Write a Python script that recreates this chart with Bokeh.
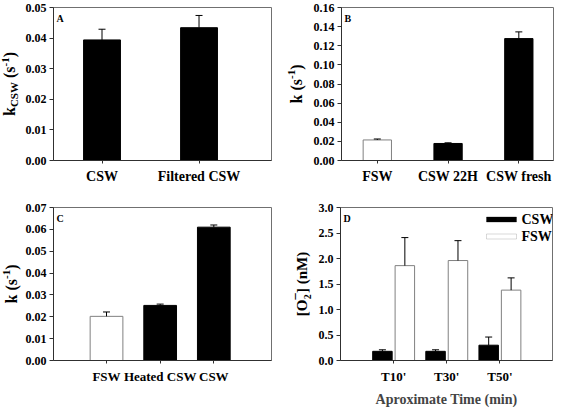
import math
from bokeh.plotting import figure
from bokeh.models import (Range1d, FixedTicker, Label, Whisker, TeeHead, ColumnDataSource,
                          NumeralTickFormatter, BoxAnnotation)
from bokeh.transform import dodge
from bokeh.layouts import column, row
from bokeh.embed import file_html
from bokeh.resources import INLINE

FONT = "Liberation Serif"

# ---------------- data ----------------
a_cats = ["CSW", "Filtered CSW"]
a_vals = [0.0394, 0.0434]
a_errs = [0.0035, 0.0040]
a_fill = ["black", "black"]

b_cats = ["FSW", "CSW 22H", "CSW fresh"]
b_vals = [0.0215, 0.0178, 0.1275]
b_errs = [0.0010, 0.0007, 0.0070]
b_fill = ["white", "black", "black"]

c_cats = ["FSW", "Heated CSW", "CSW"]
c_vals = [0.0202, 0.0252, 0.0610]
c_errs = [0.0020, 0.0006, 0.0010]
c_fill = ["white", "black", "black"]

d_times = ["T10'", "T30'", "T50'"]
d_series = ["CSW", "FSW"]
d_csw = [0.18, 0.18, 0.30]
d_csw_err = [0.03, 0.03, 0.16]
d_fsw = [1.86, 1.96, 1.38]
d_fsw_err = [0.55, 0.39, 0.24]

# Times-like bold advance widths (em)
W = {"k": .556, "C": .722, "S": .556, "W": 1.0, " ": .25, "(": .333, "s": .389,
     "-": .333, "1": .5, ")": .333, "[": .333, "O": .778, "2": .5, "]": .333,
     "n": .556, "M": .944, "\u2212": .57}


def tw(s, size):
    return sum(W.get(ch, .5) for ch in s) * size


def base_fig(xr, yr, fw, fh, bl, br, bt, bb, axes=True):
    kw = {} if axes else dict(x_axis_type=None, y_axis_type=None)
    p = figure(x_range=Range1d(*xr), y_range=Range1d(*yr),
               frame_width=fw, frame_height=fh,
               min_border_left=bl, min_border_right=br,
               min_border_top=bt, min_border_bottom=bb,
               output_backend="svg", toolbar_location=None, tools="", **kw)
    p.background_fill_color = "white"
    p.border_fill_color = "white"
    return p


class Panel:
    def __init__(self, xr, yr, fw, fh, bl, br, bt, bb):
        self.xr, self.yr, self.fw, self.fh = xr, yr, fw, fh
        self.bt, self.bb = bt, bb
        p = base_fig(xr, yr, fw, fh, bl, br, bt, bb)
        p.xgrid.visible = False
        p.ygrid.visible = False
        p.outline_line_color = "#707070"
        p.outline_line_width = 1
        for ax in (p.xaxis[0], p.yaxis[0]):
            ax.axis_line_color = "#303030"
            ax.major_tick_line_color = "#303030"
            ax.minor_tick_line_color = None
            ax.major_tick_in = 0
            ax.major_label_text_font = FONT
            ax.major_label_text_font_style = "bold"
            ax.major_label_text_color = "black"
        p.yaxis[0].major_tick_out = 4
        p.yaxis[0].major_label_standoff = 3
        p.yaxis[0].major_label_text_font_size = "12px"
        p.xaxis[0].major_tick_out = 3
        p.xaxis[0].major_label_standoff = 5
        p.xaxis[0].major_label_text_font_size = "14px"
        self.p = p

    def X(self, px):
        return self.xr[0] + px * (self.xr[1] - self.xr[0]) / self.fw

    def Y(self, py):
        return self.yr[0] + py * (self.yr[1] - self.yr[0]) / self.fh

    def letter(self, t):
        self.p.add_layout(Label(x=self.X(3), y=self.Y(self.fh - 5), text=t,
                                text_align="left", text_baseline="top",
                                text_font=FONT, text_font_style="bold",
                                text_font_size="10px", text_color="black"))

    def bars(self, cats, vals, errs, fills, width):
        xs = list(range(len(cats)))
        lines = ["#808080" if f == "white" else "black" for f in fills]
        src = ColumnDataSource(dict(x=xs, top=vals, fill=fills, line=lines,
                                    upper=[v + e for v, e in zip(vals, errs)]))
        self.p.vbar(x="x", top="top", bottom=0, width=width, fill_color="fill",
                    line_color="line", line_width=1, source=src)
        self.p.add_layout(Whisker(base="x", upper="upper", lower="top", source=src,
                                  dimension="height", line_color="black", line_width=1,
                                  upper_head=TeeHead(size=7, line_color="black", line_width=1),
                                  lower_head=None, level="overlay"))
        self.p.xaxis[0].ticker = FixedTicker(ticks=xs)
        self.p.xaxis[0].major_label_overrides = {i: c for i, c in enumerate(cats)}


def label_fig(w, partner, base_px, pieces):
    """Narrow figure holding the rotated y-axis title (with sub/superscripts).
    Each piece is centred on its own spot; blank pieces only advance."""
    fh = partner.fh
    lp = base_fig((0, w), (0, fh), w, fh, 0, 0, partner.bt, partner.bb, axes=False)
    lp.outline_line_color = None
    advs = [tw(t, s) if a is None else a for t, s, sh, a in pieces]
    pos = fh / 2 - sum(advs) / 2
    for (t, s, sh, a), adv in zip(pieces, advs):
        if t.strip():
            centre_along = pos + (adv if adv > 0 else 5.5) / 2
            lp.add_layout(Label(x=base_px + sh - 0.32 * s, y=centre_along, text=t,
                                angle=math.pi / 2, text_align="center",
                                text_baseline="middle", text_font=FONT,
                                text_font_style="bold", text_font_size=f"{s}px",
                                text_color="black"))
        pos += adv
    return lp


k_label = [("k", 16, 0, None), (" ", 16, 0, None), ("(s", 16, 0, None),
           ("-1", 11, -6, None), (")", 16, 0, None)]

# ---------------- panel A ----------------
A = Panel((-0.5, 1.747), (0, 0.05), 218, 153, 31, 15, 7, 39)
A.bars(a_cats, a_vals, a_errs, a_fill, 0.38)
A.p.yaxis[0].ticker = FixedTicker(ticks=[0, 0.01, 0.02, 0.03, 0.04, 0.05])
A.p.yaxis[0].formatter = NumeralTickFormatter(format="0.00")
A.letter("A")
LA = label_fig(22, A, 14.5, [("k", 16, 0, None), ("CSW", 11, 3, None), (" ", 16, 0, None),
                             ("(s", 16, 0, None), ("-1", 11, -6, None), (")", 16, 0, None)])

# ---------------- panel B ----------------
B = Panel((-0.506, 2.49), (0, 0.16), 212, 153, 30, 1, 7, 39)
B.bars(b_cats, b_vals, b_errs, b_fill, 0.40)
B.p.yaxis[0].ticker = FixedTicker(ticks=[0, 0.02, 0.04, 0.06, 0.08, 0.10, 0.12, 0.14, 0.16])
B.p.yaxis[0].formatter = NumeralTickFormatter(format="0.00")
B.letter("B")
LB = label_fig(24, B, 15, k_label)

# ---------------- panel C ----------------
C = Panel((-0.988, 3.075), (0, 0.07), 218, 153, 31, 15, 8, 43)
C.bars(c_cats, c_vals, c_errs, c_fill, 0.61)
C.p.xaxis[0].major_label_text_font_size = "13px"
C.p.yaxis[0].ticker = FixedTicker(ticks=[0, 0.01, 0.02, 0.03, 0.04, 0.05, 0.06, 0.07])
C.p.yaxis[0].formatter = NumeralTickFormatter(format="0.00")
C.letter("C")
LC = label_fig(22, C, 16, k_label)

# ---------------- panel D ----------------
D = Panel((-1.0, 2.99), (0, 3.0), 212, 153, 28, 1, 8, 43)
xs = list(range(len(d_times)))
srcD = ColumnDataSource(dict(x=xs, csw=d_csw, fsw=d_fsw,
                             csw_up=[v + e for v, e in zip(d_csw, d_csw_err)],
                             fsw_up=[v + e for v, e in zip(d_fsw, d_fsw_err)]))
D.p.vbar(x=dodge("x", -0.211, range=D.p.x_range), top="csw", bottom=0, width=0.367,
         fill_color="black", line_color="black", source=srcD)
D.p.vbar(x=dodge("x", 0.211, range=D.p.x_range), top="fsw", bottom=0, width=0.367,
         fill_color="white", line_color="#808080", source=srcD)
for col, up, off in (("csw", "csw_up", -0.211), ("fsw", "fsw_up", 0.211)):
    D.p.add_layout(Whisker(base=dodge("x", off, range=D.p.x_range), upper=up, lower=col,
                           source=srcD, dimension="height", line_color="black",
                           upper_head=TeeHead(size=7, line_color="black"),
                           lower_head=None, level="overlay"))
D.p.xaxis[0].ticker = FixedTicker(ticks=xs)
D.p.xaxis[0].major_label_overrides = {i: t for i, t in enumerate(d_times)}
D.p.xaxis[0].major_label_text_font_size = "13px"
D.p.xaxis[0].axis_label = "Aproximate Time (min)"
D.p.xaxis[0].axis_label_text_font = FONT
D.p.xaxis[0].axis_label_text_font_style = "bold"
D.p.xaxis[0].axis_label_text_font_size = "14px"
D.p.xaxis[0].axis_label_standoff = 5
D.p.yaxis[0].ticker = FixedTicker(ticks=[0, 0.5, 1.0, 1.5, 2.0, 2.5, 3.0])
D.p.yaxis[0].formatter = NumeralTickFormatter(format="0.0")
D.letter("D")
LD = label_fig(26, D, 20.7, [("[O", 15, 0, None), ("2", 10, 3, 0), ("\u2212", 14, -8, 6.5),
                             ("]", 15, 0, None), (" ", 15, 0, None), ("(nM)", 15, 0, None)])

# legend (swatch 30x5 px, text to its right)
for i, (name, fill, line) in enumerate(zip(d_series, ["black", "white"],
                                           ["black", "#808080"])):
    yc = D.fh - 12 - 17 * i
    D.p.add_layout(BoxAnnotation(left=D.X(146), right=D.X(176),
                                 bottom=D.Y(yc - 2.5), top=D.Y(yc + 2.5),
                                 fill_color=fill, fill_alpha=1, line_color=line,
                                 line_width=1, level="overlay"))
    D.p.add_layout(Label(x=D.X(181), y=D.Y(yc), text=name, text_align="left",
                         text_baseline="middle", text_font=FONT,
                         text_font_style="bold", text_font_size="14px",
                         text_color="black"))

layout = column(row(LA, A.p, LB, B.p), row(LC, C.p, LD, D.p))
open("out.html", "w").write(file_html(layout, INLINE))
